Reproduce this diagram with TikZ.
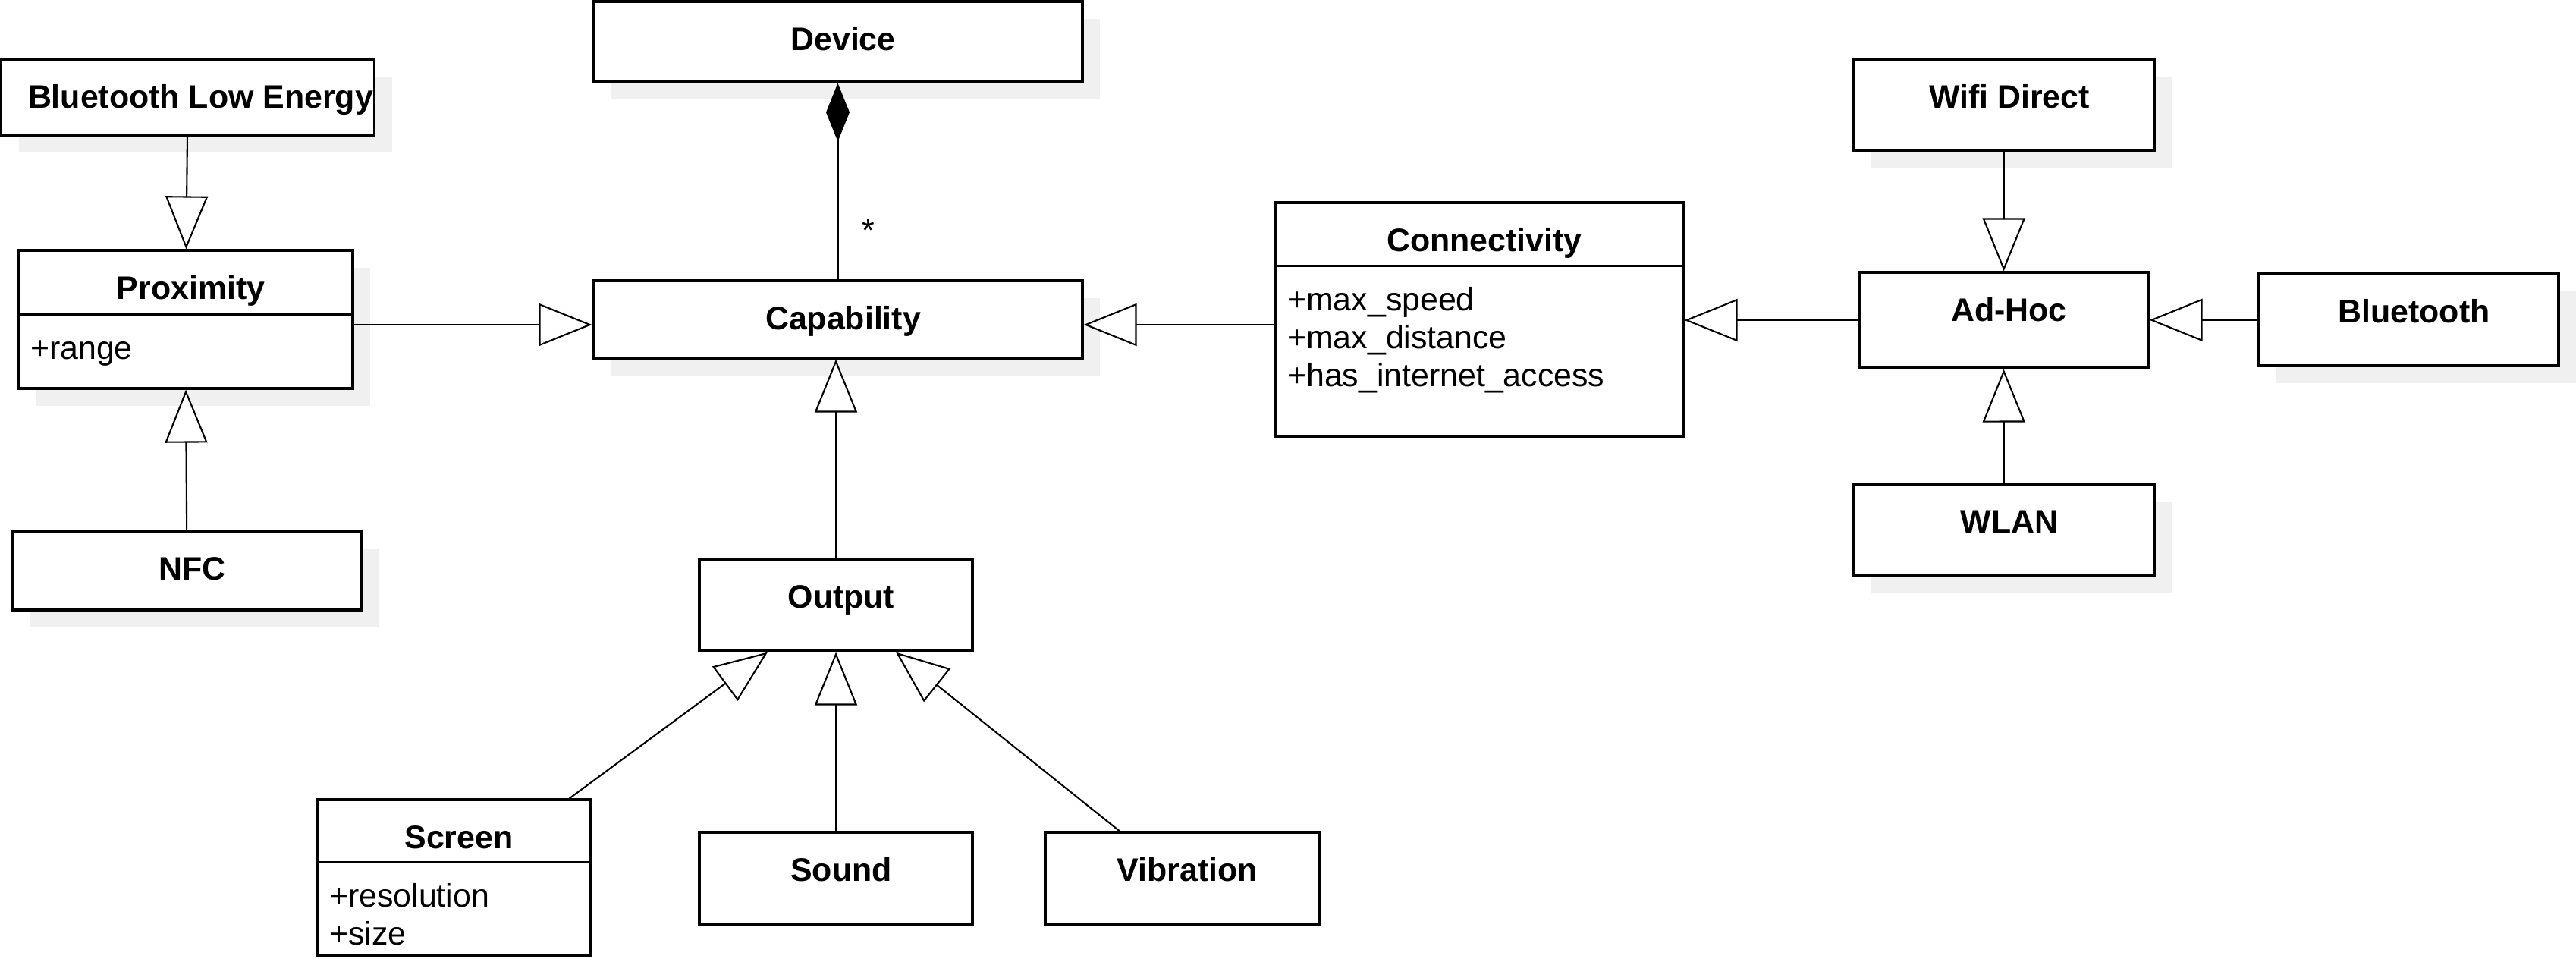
\documentclass[tikz,border=0pt]{standalone}
\usepackage{fontspec}
\setmainfont{Liberation Sans}
\usetikzlibrary{arrows.meta,shadows}

\newcommand{\umlsize}{\fontsize{12.2}{14.6}\selectfont}

\tikzset{
  cls/.style={draw, fill=white, line width=.9pt, inner sep=0pt},
  shd/.style={drop shadow={shadow xshift=.23cm, shadow yshift=-.23cm, fill=black!6, opacity=1}},
  ttl/.style={font=\umlsize\bfseries, anchor=base, xshift=.7mm, yshift=-6.65mm},
  attr/.style={font=\umlsize, anchor=base west, inner sep=0pt},
  mul/.style={font=\umlsize, inner sep=0pt, anchor=west, xshift=3.1mm},
  gen/.style={line width=.6pt, -{Triangle[length=7mm, width=5.6mm, fill=white]}},
  comp/.style={line width=.6pt, -{Diamond[length=7.7mm, width=3.1mm]}},
}

\begin{document}
\begin{tikzpicture}
  \useasboundingbox (0,0) rectangle (33.96,-12.63);

  % top and left
  \node[cls, shd, minimum width=6.45cm, minimum height=1.06cm, label={[ttl]north:Device}] (dev) at (11.045,-0.55) {};
  \node[cls, shd, minimum width=4.92cm, minimum height=1cm, label={[ttl, xshift=1mm]north:Bluetooth Low Energy}] (ble) at (2.475,-1.28) {};
  \node[cls, shd, minimum width=4.41cm, minimum height=1.82cm, label={[ttl]north:Proximity}] (prox) at (2.445,-4.21) {};
  \node[cls, shd, minimum width=4.59cm, minimum height=1.04cm, label={[ttl]north:NFC}] (nfc) at (2.465,-7.52) {};
  \node[cls, shd, minimum width=6.45cm, minimum height=1.02cm, label={[ttl]north:Capability}] (cap) at (11.045,-4.21) {};

  \coordinate (prox-d) at ([yshift=-8.6mm]prox.north west);
  \draw[line width=.9pt] (prox-d) -- (prox-d -| prox.east);
  \node[attr] (prox-a) at ([xshift=1.7mm, yshift=-5.95mm]prox-d) {+range};

  % connectivity side
  \node[cls, minimum width=5.38cm, minimum height=3.08cm, label={[ttl]north:Connectivity}] (conn) at (19.5,-4.21) {};
  \coordinate (conn-d) at ([yshift=-8.5mm]conn.north west);
  \draw[line width=.9pt] (conn-d) -- (conn-d -| conn.east);
  \foreach \a/\dy [count=\i] in {max\_speed/5.95, max\_distance/10.95, has\_internet\_access/15.95}
    \node[attr] (conn-a\i) at ([xshift=1.7mm, yshift=-\dy mm]conn-d) {+\a};

  \node[cls, shd, minimum width=3.96cm, minimum height=1.2cm, label={[ttl]north:Wifi Direct}] (wifi) at (26.42,-1.38) {};
  \node[cls, minimum width=3.81cm, minimum height=1.26cm, label={[ttl]north:Ad-Hoc}] (adhoc) at (26.415,-4.22) {};
  \node[cls, shd, minimum width=3.95cm, minimum height=1.21cm, label={[ttl]north:Bluetooth}] (bt) at (31.755,-4.215) {};
  \node[cls, shd, minimum width=3.96cm, minimum height=1.2cm, label={[ttl]north:WLAN}] (wlan) at (26.42,-6.98) {};

  % output side
  \node[cls, minimum width=3.6cm, minimum height=1.21cm, label={[ttl]north:Output}] (out) at (11.02,-7.975) {};
  \node[cls, minimum width=3.6cm, minimum height=2.06cm, label={[ttl]north:Screen}] (screen) at (5.98,-11.57) {};
  \node[cls, minimum width=3.6cm, minimum height=1.21cm, label={[ttl]north:Sound}] (sound) at (11.02,-11.575) {};
  \node[cls, minimum width=3.61cm, minimum height=1.21cm, label={[ttl]north:Vibration}] (vib) at (15.585,-11.575) {};

  \coordinate (screen-d) at ([yshift=-8.4mm]screen.north west);
  \draw[line width=.9pt] (screen-d) -- (screen-d -| screen.east);
  \foreach \a/\dy [count=\i] in {resolution/5.95, size/10.95}
    \node[attr] (screen-a\i) at ([xshift=1.7mm, yshift=-\dy mm]screen-d) {+\a};

  % relations
  \draw[comp] (cap) -- (dev) node[mul, pos=.25] (mult) {*};
  \draw[gen] (ble) -- (prox);
  \draw[gen] (nfc) -- (prox);
  \draw[gen] (prox.east |- 0,-4.28) -- (cap.west |- 0,-4.28);
  \draw[gen] (conn.west |- 0,-4.28) -- (cap.east |- 0,-4.28);
  \draw[gen] (adhoc.west) -- (adhoc.west -| conn.east);
  \draw[gen] (wifi) -- (adhoc);
  \draw[gen] (wlan) -- (adhoc);
  \draw[gen] (bt) -- (adhoc);
  \draw[gen] (out.north) -- (out.north |- cap.south);
  \draw[gen] ([xshift=-2.9mm]screen.north east) -- ([xshift=-9mm]out.south);
  \draw[gen] (sound.north) -- (out.south);
  \draw[gen] ([xshift=-8.25mm]vib.north) -- ([xshift=7.9mm]out.south);
\end{tikzpicture}
\end{document}
